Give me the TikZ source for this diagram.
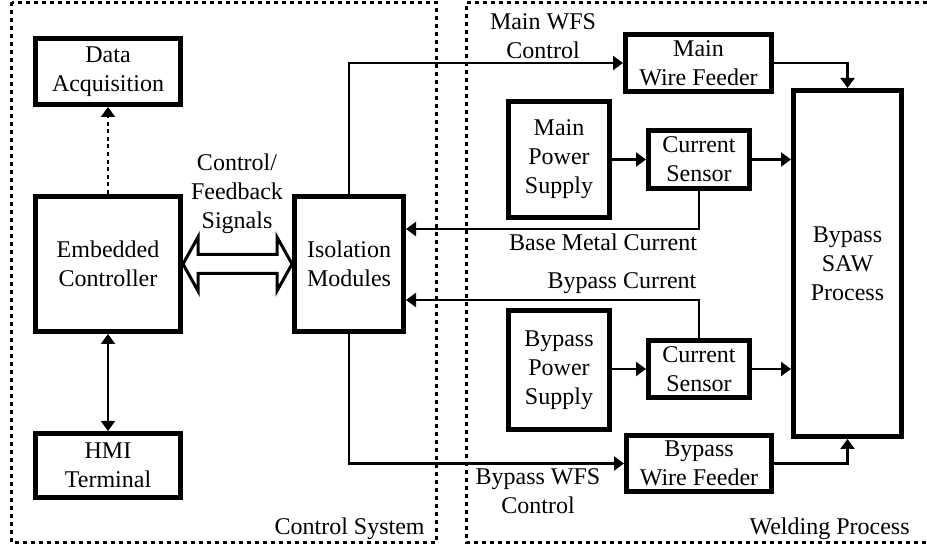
\documentclass[tikz,border=0pt]{standalone}
\usepackage{fontspec}
\setmainfont{Liberation Serif}
\usetikzlibrary{arrows.meta,calc}

\begin{document}
\begin{tikzpicture}[x=0.5pt,y=-0.5pt,
  every node/.style={font=\fontsize{12}{14.5}\selectfont},
  blk/.style={draw, line width=2.5pt, align=center, inner sep=1pt},
  tip/.style={Triangle[length=5pt,width=7pt]},
  wire/.style={line width=1.1pt, -{Triangle[length=5pt,width=7pt]}},
  biwire/.style={line width=1.1pt, {Triangle[length=5pt,width=7pt]}-{Triangle[length=5pt,width=7pt]}},
  dotwire/.style={line width=1.1pt, dash pattern=on 2pt off 1.8pt, -{Triangle[length=5pt,width=7pt]}},
  group/.style={line width=1.5pt, dash pattern=on 2pt off 2pt},
  hollow/.style={line width=1.5pt, line join=miter},
  lbl/.style={align=center, inner sep=0pt}]

\useasboundingbox (0,0) rectangle (927,550);

% group frames
\draw[group] (11.5,2.5) rectangle (436,543);
\draw[group] (927,2.5) -- (466.5,2.5) -- (466.5,543) -- (927,543);
\node[lbl, anchor=base east] (cslbl) at (425,535) {Control System};
\node[lbl, anchor=base east] (wplbl) at (910,535) {Welding Process};

% control system blocks
\node[blk, minimum width=72.5pt, minimum height=33pt]   (da)  at (108,71.5)  {Data\\Acquisition};
\node[blk, minimum width=72.5pt, minimum height=67.5pt] (ec)  at (108,264)   {Embedded\\Controller};
\node[blk, minimum width=72.5pt, minimum height=32pt]   (hmi) at (108,465.5) {HMI\\Terminal};
\node[blk, minimum width=54.5pt, minimum height=67.5pt] (im)  at (349,264)   {Isolation\\Modules};

% welding process blocks
\node[blk, minimum width=73pt,   minimum height=28.5pt] (mwf) at (698.5,63)  {Main\\Wire Feeder};
\node[blk, minimum width=50.5pt, minimum height=58pt]   (mps) at (559,159.5) {Main\\Power\\Supply};
\node[blk, minimum width=50.5pt, minimum height=29pt]   (cs1) at (699,159.5) {Current\\Sensor};
\node[blk, minimum width=54pt,   minimum height=173pt]  (saw) at (847.5,263.5) {Bypass\\SAW\\Process};
\node[blk, minimum width=50.5pt, minimum height=59.5pt] (bps) at (559,370)   {Bypass\\Power\\Supply};
\node[blk, minimum width=50.5pt, minimum height=28.5pt] (cs2) at (699,369)   {Current\\Sensor};
\node[blk, minimum width=72.5pt, minimum height=28pt]   (bwf) at (699,463.5) {Bypass\\Wire Feeder};

% controller links
\draw[dotwire] (ec.north) -- (da.south);
\draw[biwire] (ec.south) -- (hmi.north);
\draw[hollow] (ec.east) -- ($(ec.east)+(15,-27)$) -- ($(ec.east)+(15,-9.5)$)
  -- ($(im.west)+(-15,-9.5)$) -- ($(im.west)+(-15,-27)$) -- (im.west)
  -- ($(im.west)+(-15,27)$) -- ($(im.west)+(-15,9.5)$)
  -- ($(ec.east)+(15,9.5)$) -- ($(ec.east)+(15,27)$) -- cycle;
\node[lbl] (cfs) at (237,194) {Control/\\Feedback\\Signals};

% wire feed control
\draw[wire] (im.north) |- (mwf.west);
\draw[wire] (im.south) |- (bwf.west);
\draw[wire] (mwf.east) -| (saw.north);
\draw[wire] (bwf.east) -| (saw.south);
\node[lbl] (mwfs) at (543,36.5) {Main WFS\\Control};
\node[lbl] (bwfs) at (538,491.5) {Bypass WFS\\Control};

% power paths
\draw[wire] (mps.east) -- (cs1.west);
\draw[wire] (cs1.east) -- (cs1.east -| saw.west);
\draw[wire] (bps.east |- cs2.west) -- (cs2.west);
\draw[wire] (cs2.east) -- (cs2.east -| saw.west);

% current feedback
\draw[wire] (cs1.south) |- ($(im.east)+(0,-35)$);
\draw[wire] (cs2.north) |- ($(im.east)+(0,36)$);
\node[lbl] (bmc) at (603,242.5) {Base Metal Current};
\node[lbl] (bpc) at (622,283) {Bypass Current};

\end{tikzpicture}
\end{document}
